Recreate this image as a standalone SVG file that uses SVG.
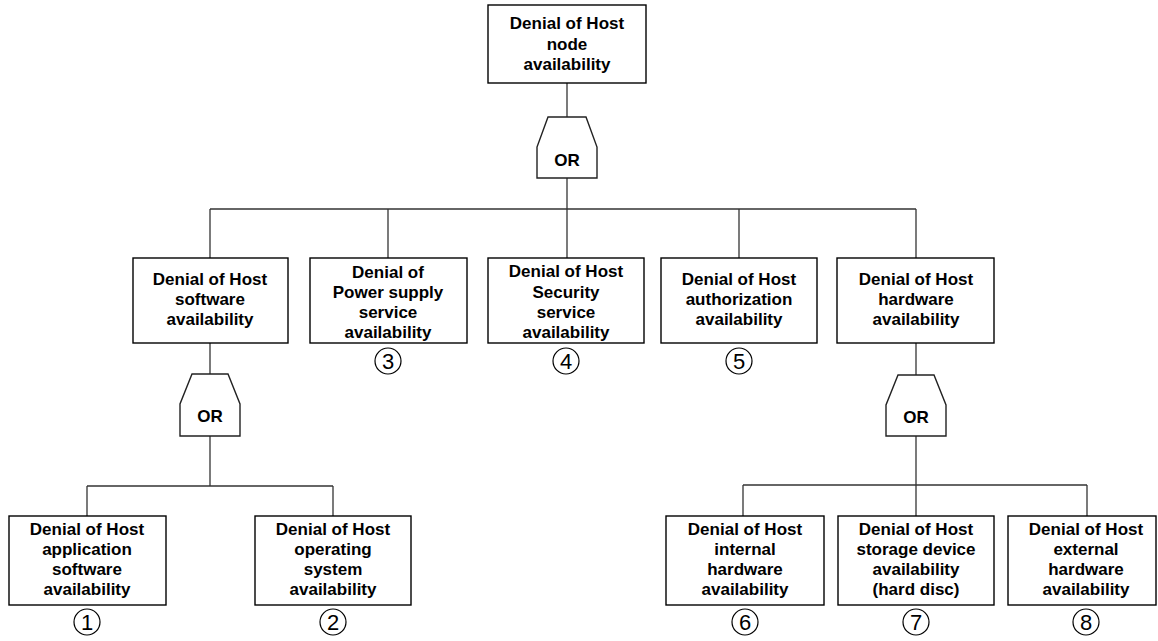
<svg xmlns="http://www.w3.org/2000/svg" width="1158" height="641" viewBox="0 0 1158 641">
<style>
.box{fill:#fff;stroke:#000;stroke-width:1.4}
.gate{fill:#fff;stroke:#222;stroke-width:1.4}
.conn line{stroke:#333;stroke-width:1.3}
.t{font-family:"Liberation Sans",Arial,sans-serif;font-weight:bold;font-size:17px;fill:#000;text-anchor:middle}
.num circle{fill:none;stroke:#000;stroke-width:1.2}
.num text{font-family:"Liberation Sans",Arial,sans-serif;font-size:22px;fill:#000;text-anchor:middle}
</style>
<rect width="1158" height="641" fill="#fff"/>
<g id="connectors" class="conn">
<line x1="567" y1="83" x2="567" y2="117"/>
<line x1="567" y1="178" x2="567" y2="258"/>
<line x1="210" y1="209" x2="916" y2="209"/>
<line x1="210" y1="209" x2="210" y2="258"/>
<line x1="388" y1="209" x2="388" y2="258"/>
<line x1="739" y1="209" x2="739" y2="258"/>
<line x1="916" y1="209" x2="916" y2="258"/>
<line x1="210" y1="343" x2="210" y2="374"/>
<line x1="210" y1="436" x2="210" y2="486"/>
<line x1="87" y1="486" x2="333" y2="486"/>
<line x1="87" y1="486" x2="87" y2="516"/>
<line x1="333" y1="486" x2="333" y2="516"/>
<line x1="916" y1="343" x2="916" y2="375"/>
<line x1="916" y1="436" x2="916" y2="516"/>
<line x1="743" y1="485" x2="1087" y2="485"/>
<line x1="743" y1="485" x2="743" y2="516"/>
<line x1="1087" y1="485" x2="1087" y2="516"/>
</g>
<g id="top">
<rect class="box" x="488" y="5" width="158" height="78"/>
<text class="t" x="567" y="29">Denial of Host</text>
<text class="t" x="567" y="50">node</text>
<text class="t" x="567" y="70">availability</text>
</g>
<g id="or1">
<path class="gate" d="M548,117 L586,117 L597,147 L597,178 L537,178 L537,147 Z"/>
<text class="t" x="567" y="166">OR</text>
</g>
<g id="software">
<rect class="box" x="133" y="258" width="155" height="85"/>
<text class="t" x="210" y="285">Denial of Host</text>
<text class="t" x="210" y="305">software</text>
<text class="t" x="210" y="325">availability</text>
</g>
<g id="power">
<rect class="box" x="310" y="258" width="157" height="85"/>
<text class="t" x="388" y="278">Denial of</text>
<text class="t" x="388" y="298">Power supply</text>
<text class="t" x="388" y="318">service</text>
<text class="t" x="388" y="338">availability</text>
</g>
<g id="security">
<rect class="box" x="488" y="258" width="156" height="85"/>
<text class="t" x="566" y="277">Denial of Host</text>
<text class="t" x="566" y="298">Security</text>
<text class="t" x="566" y="318">service</text>
<text class="t" x="566" y="338">availability</text>
</g>
<g id="authorization">
<rect class="box" x="661" y="258" width="156" height="85"/>
<text class="t" x="739" y="285">Denial of Host</text>
<text class="t" x="739" y="305">authorization</text>
<text class="t" x="739" y="325">availability</text>
</g>
<g id="hardware">
<rect class="box" x="837" y="258" width="157" height="85"/>
<text class="t" x="916" y="285">Denial of Host</text>
<text class="t" x="916" y="305">hardware</text>
<text class="t" x="916" y="325">availability</text>
</g>
<g id="or2">
<path class="gate" d="M192,374 L228,374 L240,404 L240,436 L180,436 L180,404 Z"/>
<text class="t" x="210" y="422">OR</text>
</g>
<g id="or3">
<path class="gate" d="M898,375 L934,375 L946,405 L946,436 L886,436 L886,405 Z"/>
<text class="t" x="916" y="423">OR</text>
</g>
<g id="app">
<rect class="box" x="9" y="516" width="157" height="89"/>
<text class="t" x="87" y="535">Denial of Host</text>
<text class="t" x="87" y="555">application</text>
<text class="t" x="87" y="575">software</text>
<text class="t" x="87" y="595">availability</text>
</g>
<g id="os">
<rect class="box" x="255" y="516" width="156" height="89"/>
<text class="t" x="333" y="535">Denial of Host</text>
<text class="t" x="333" y="555">operating</text>
<text class="t" x="333" y="575">system</text>
<text class="t" x="333" y="595">availability</text>
</g>
<g id="internal">
<rect class="box" x="666" y="516" width="158" height="89"/>
<text class="t" x="745" y="535">Denial of Host</text>
<text class="t" x="745" y="555">internal</text>
<text class="t" x="745" y="575">hardware</text>
<text class="t" x="745" y="595">availability</text>
</g>
<g id="storage">
<rect class="box" x="838" y="516" width="156" height="89"/>
<text class="t" x="916" y="535">Denial of Host</text>
<text class="t" x="916" y="555">storage device</text>
<text class="t" x="916" y="575">availability</text>
<text class="t" x="916" y="595">(hard disc)</text>
</g>
<g id="external">
<rect class="box" x="1008" y="516" width="148" height="89"/>
<text class="t" x="1086" y="535">Denial of Host</text>
<text class="t" x="1086" y="555">external</text>
<text class="t" x="1086" y="575">hardware</text>
<text class="t" x="1086" y="595">availability</text>
</g>
<g id="numbers" class="num">
<circle cx="87" cy="622" r="13"/><text x="87" y="630">1</text>
<circle cx="333" cy="622" r="13"/><text x="333" y="630">2</text>
<circle cx="388" cy="361" r="13"/><text x="388" y="369">3</text>
<circle cx="566" cy="361" r="13"/><text x="566" y="369">4</text>
<circle cx="739" cy="361" r="13"/><text x="739" y="369">5</text>
<circle cx="745" cy="622" r="13"/><text x="745" y="630">6</text>
<circle cx="916" cy="622" r="13"/><text x="916" y="630">7</text>
<circle cx="1086" cy="622" r="13"/><text x="1086" y="630">8</text>
</g>
</svg>
